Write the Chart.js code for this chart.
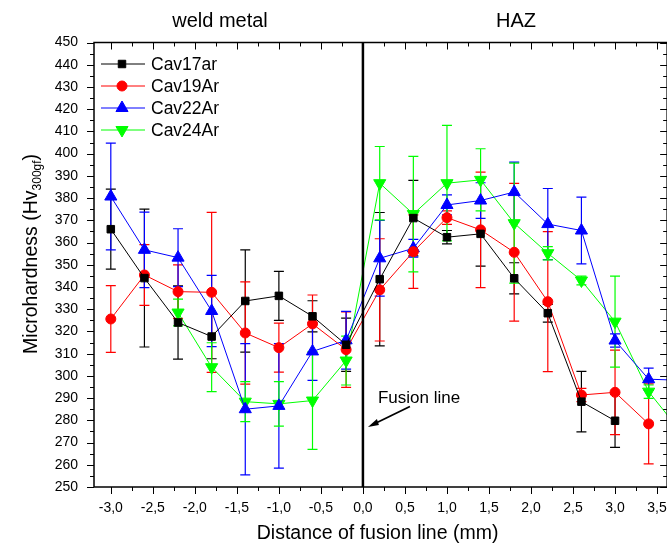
<!DOCTYPE html>
<html>
<head>
<meta charset="utf-8">
<script src="https://cdn.jsdelivr.net/npm/chart.js@4/dist/chart.umd.min.js"></script>
<style>
  html, body { margin: 0; padding: 0; background: #fff; overflow: hidden; }
  #wrap { width: 680px; height: 544px; }
</style>
</head>
<body>
<div id="wrap"><canvas id="hardnessChart" width="680" height="544"></canvas></div>
<script>
// distance from the fusion line (mm)
const positions = [-3.0, -2.6, -2.2, -1.8, -1.4, -1.0, -0.6, -0.2, 0.2, 0.6, 1.0, 1.4, 1.8, 2.2, 2.6, 3.0, 3.4, 3.8];

// microhardness (Hv 300gf) and error per specimen
const cav17ar    = [366, 344, 324, 317.7, 333.7, 336, 326.8, 314, 343.5, 371, 362.4, 363.9, 343.9, 328.2, 288.4, 279.8, null, null];
const cav17arErr = [18, 31, 16.5, 10, 23, 11, 7, 12, 30, 17, 3, 14.5, 7, 4, 13.6, 12, null, null];
const cav19ar    = [325.6, 345.4, 337.9, 337.6, 319.3, 312.7, 323.4, 311.8, 338.7, 355.9, 371.2, 365.7, 355.6, 333.4, 291.4, 292.6, 278.4, null];
const cav19arErr = [15, 13.7, 12, 36, 23, 11, 13, 17, 23, 16.5, 3, 26, 31, 31.5, 3, 19, 18, null];
const cav22ar    = [380.7, 356.7, 353.2, 329.2, 285, 286.5, 311, 316, 352.9, 357.4, 376.9, 378.9, 382.7, 368.3, 365.4, 315.9, 298.5, 298];
const cav22arErr = [24, 17, 13, 16, 29.5, 28, 13, 13, 17, 4, 4.5, 8, 13.5, 16, 15, 3, 5, 3];
const cav24ar    = [null, null, 328.5, 303.9, 288.4, 287.4, 288.9, 306.9, 386.7, 372.8, 386.7, 388.2, 368.7, 355.2, 342.9, 324.4, 292.9, 274];
const cav24arErr = [null, null, 6, 11, 9, 10, 22, 11, 16.5, 26, 26, 14, 27, 3, 2, 20.5, 3, 3];

const seriesNames = ['Cav17ar', 'Cav19Ar', 'Cav22Ar', 'Cav24Ar'];
const xTicks = [-3.0, -2.5, -2.0, -1.5, -1.0, -0.5, 0.0, 0.5, 1.0, 1.5, 2.0, 2.5, 3.0, 3.5];
const yTicks = [250, 260, 270, 280, 290, 300, 310, 320, 330, 340, 350, 360, 370, 380, 390, 400, 410, 420, 430, 440, 450];

const FONT = "'Liberation Sans', Arial, sans-serif";

function toPoints(values) {
    return positions.map((x, i) => values[i] == null ? null : { x: x, y: values[i] }).filter(p => p);
}

function fmt(v) {
    return (v < 0 ? '-' : '') + Math.abs(v).toFixed(1).replace('.', ',');
}

const errors = [cav17arErr, cav19arErr, cav22arErr, cav24arErr];
const values = [cav17ar, cav19ar, cav22ar, cav24ar];

// error bars, drawn under the markers
const errorBars = {
    id: 'errorBars',
    beforeDatasetsDraw(chart) {
        const ctx = chart.ctx, xs = chart.scales.x, ys = chart.scales.y, area = chart.chartArea;
        ctx.save();
        ctx.beginPath();
        ctx.rect(area.left, area.top, area.right - area.left, area.bottom - area.top);
        ctx.clip();
        chart.data.datasets.forEach((ds, d) => {
            ctx.strokeStyle = ds.borderColor;
            ctx.lineWidth = 1.2;
            positions.forEach((p, i) => {
                const v = values[d][i], e = errors[d][i];
                if (v == null || e == null) return;
                const x = xs.getPixelForValue(p);
                const y1 = ys.getPixelForValue(v + e);
                const y2 = ys.getPixelForValue(v - e);
                ctx.beginPath();
                ctx.moveTo(x, y1); ctx.lineTo(x, y2);
                ctx.moveTo(x - 5, y1); ctx.lineTo(x + 5, y1);
                ctx.moveTo(x - 5, y2); ctx.lineTo(x + 5, y2);
                ctx.stroke();
            });
        });
        ctx.restore();
    }
};

// axis frame, minor ticks, labels and notes
const frame = {
    id: 'frame',
    afterDraw(chart) {
        const ctx = chart.ctx, xs = chart.scales.x, ys = chart.scales.y, a = chart.chartArea;
        ctx.save();
        ctx.strokeStyle = '#000';
        ctx.fillStyle = '#000';
        ctx.lineWidth = 1.5;
        ctx.strokeRect(a.left, a.top, a.right - a.left, a.bottom - a.top);

        ctx.lineWidth = 1;
        ctx.beginPath();
        for (let v = 250; v <= 450; v += 5) {
            const y = Math.round(ys.getPixelForValue(v)) + 0.5;
            const len = v % 10 === 0 ? 7 : 4;
            ctx.moveTo(a.left, y); ctx.lineTo(a.left - len, y);
            ctx.moveTo(a.right, y); ctx.lineTo(a.right - len, y);
        }
        for (let v = -3.0; v <= 3.6; v += 0.25) {
            const x = Math.round(xs.getPixelForValue(v)) + 0.5;
            const len = Math.abs(v * 2 - Math.round(v * 2)) < 1e-6 ? 7 : 4;
            ctx.moveTo(x, a.bottom); ctx.lineTo(x, a.bottom + len);
            ctx.moveTo(x, a.top); ctx.lineTo(x, a.top + len);
        }
        ctx.stroke();

        // fusion line at 0
        const x0 = xs.getPixelForValue(0);
        ctx.lineWidth = 2.5;
        ctx.beginPath();
        ctx.moveTo(x0, a.top); ctx.lineTo(x0, a.bottom);
        ctx.stroke();

        // region labels
        ctx.font = '20px ' + FONT;
        ctx.textAlign = 'center';
        ctx.textBaseline = 'alphabetic';
        ctx.fillText('weld metal', 220, 27);
        ctx.fillText('HAZ', 516, 27);

        // fusion line note with arrow
        ctx.font = '17px ' + FONT;
        ctx.textAlign = 'left';
        ctx.fillText('Fusion line', x0 + 15, 403);
        ctx.lineWidth = 1.8;
        ctx.beginPath();
        ctx.moveTo(x0 + 47, 406.5); ctx.lineTo(x0 + 9, 425);
        ctx.stroke();
        ctx.beginPath();
        ctx.moveTo(x0 + 5, 427);
        ctx.lineTo(x0 + 14, 419);
        ctx.lineTo(x0 + 16, 425);
        ctx.closePath();
        ctx.fill();

        // axis titles
        ctx.font = '19.5px ' + FONT;
        ctx.textAlign = 'center';
        ctx.fillText('Distance of fusion line (mm)', (a.left + a.right) / 2 - 3, 539);

        ctx.save();
        ctx.translate(37, 254);
        ctx.rotate(-Math.PI / 2);
        ctx.textAlign = 'left';
        const main = 'Microhardness (Hv';
        ctx.font = '19.5px ' + FONT;
        const w1 = ctx.measureText(main).width;
        ctx.font = '12px ' + FONT;
        const w2 = ctx.measureText('300gf').width;
        ctx.font = '19.5px ' + FONT;
        const w3 = ctx.measureText(')').width;
        let sx = -(w1 + w2 + w3) / 2;
        ctx.fillText(main, sx, 0);
        ctx.font = '12px ' + FONT;
        ctx.fillText('300gf', sx + w1, 4);
        ctx.font = '19.5px ' + FONT;
        ctx.fillText(')', sx + w1 + w2, 0);
        ctx.restore();

        // legend
        ctx.font = '17.5px ' + FONT;
        ctx.textBaseline = 'middle';
        ctx.textAlign = 'left';
        chart.data.datasets.forEach((ds, i) => {
            const y = 64 + i * 22;
            ctx.strokeStyle = ds.borderColor;
            ctx.fillStyle = ds.backgroundColor;
            ctx.lineWidth = 1;
            ctx.beginPath();
            ctx.moveTo(101, y); ctx.lineTo(145, y);
            ctx.stroke();
            Chart.helpers.drawPoint(ctx, {
                pointStyle: ds.pointStyle, radius: ds.pointRadius,
                rotation: ds.pointRotation || 0, borderWidth: 1
            }, 122, y);
            ctx.fillStyle = '#000';
            ctx.fillText(ds.label, 151, y + 1);
        });
        ctx.restore();
    }
};

const colors = ['#000000', '#ff0000', '#0000ff', '#00ff00'];
const styles = ['rect', 'circle', 'triangle', 'triangle'];
const radii = [5.3, 5, 7, 7];
const rotations = [0, 0, 0, 180];

const ctx = document.getElementById('hardnessChart').getContext('2d');
const hardnessChart = new Chart(ctx, {
    type: 'line',
    data: {
        datasets: values.map((vals, i) => ({
            label: seriesNames[i],
            data: toPoints(vals),
            borderColor: colors[i],
            backgroundColor: colors[i],
            borderWidth: 1,
            pointStyle: styles[i],
            pointRadius: radii[i],
            pointRotation: rotations[i],
            pointBorderWidth: 1,
            tension: 0,
            fill: false
        }))
    },
    options: {
        responsive: false,
        animation: false,
        layout: { padding: { left: 0, right: 12, top: 42.5, bottom: 0 } },
        plugins: {
            legend: { display: false },
            tooltip: { enabled: false }
        },
        scales: {
            x: {
                type: 'linear',
                min: -3.2,
                max: 3.62,
                grid: { display: false, drawTicks: false },
                border: { display: false },
                afterBuildTicks: s => { s.ticks = xTicks.map(v => ({ value: v })); },
                afterFit: s => { s.height = 57; },
                ticks: {
                    padding: 13,
                    color: '#000',
                    autoSkip: false,
                    maxRotation: 0,
                    font: { family: FONT, size: 14 },
                    callback: v => fmt(v)
                }
            },
            y: {
                min: 250,
                max: 450,
                grid: { display: false, drawTicks: false },
                border: { display: false },
                afterBuildTicks: s => { s.ticks = yTicks.map(v => ({ value: v })); },
                afterFit: s => { s.width = 94; },
                ticks: {
                    padding: 16,
                    color: '#000',
                    autoSkip: false,
                    font: { family: FONT, size: 14 },
                    callback: v => String(v)
                }
            }
        }
    },
    plugins: [errorBars, frame]
});
</script>
</body>
</html>
